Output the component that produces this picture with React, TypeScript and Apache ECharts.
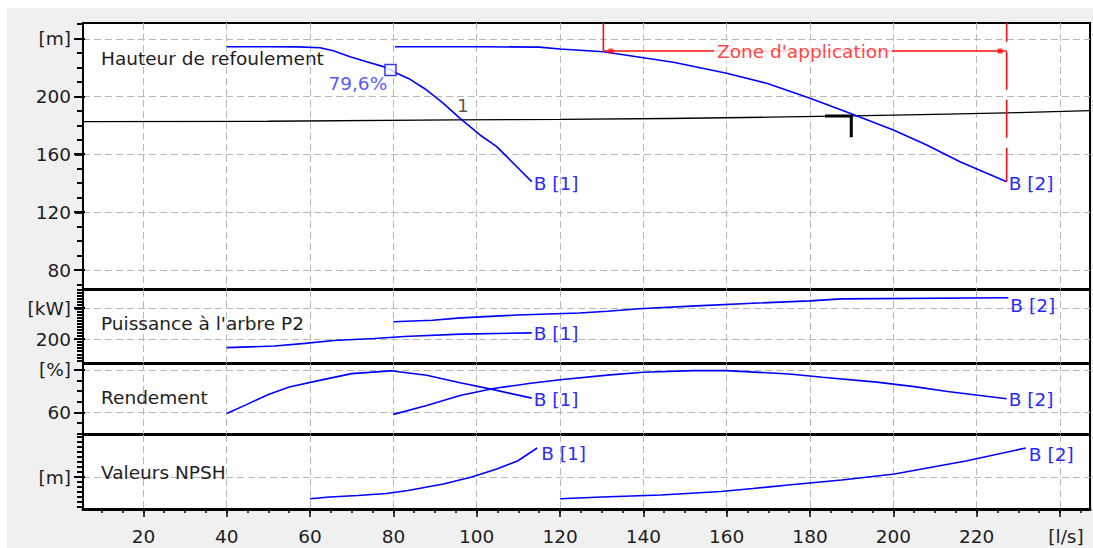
import React, { useEffect, useRef } from "react";
import * as echarts from "echarts";

const FONT = "DejaVu Sans";
const BLUE = "#0000ff";
const LABEL_BLUE = "#2a2aff";
const RED = "#ff1010";
const TXT = "#1e1e1e";
const FS = 18.5;

// ---------- axes ----------
const X_MIN = 5.5;
const X_MAX = 247.2;
const X_MAJOR_TICKS = [20, 40, 60, 80, 100, 120, 140, 160, 180, 200, 220, 240];
const X_UNIT_TICK = 240; // labelled "[l/s]"

const HEAD_RANGE = [66.9, 251.0];
const HEAD_TICKS = [80, 120, 160, 200, 240];
const POWER_RANGE = [45, 520.5];
const POWER_TICKS = [200, 400];
const EFF_RANGE = [50, 82.8];
const EFF_TICKS = [60, 80];
const NPSH_RANGE = [3.6, 18.4];
const NPSH_TICKS = [10];

// ---------- data: head ----------
const headB1Flow = [40, 50, 57, 62.4, 65.6, 69.6, 73.6, 77.6, 79.3, 80.8, 84, 88, 92, 96, 100.8, 104.8, 110.4, 113.2];
const headB1 = [234.6, 234.6, 234.5, 233.9, 231.8, 227.7, 224.2, 220.8, 218.5, 216.2, 212, 204.6, 195.4, 185, 173.5, 165.4, 149.3, 141.2];
const headB2Flow = [80.4, 100, 115, 120, 130.4, 147.2, 160, 169.6, 180, 189.6, 200, 208, 216, 227.2];
const headB2 = [234.6, 234.6, 234.3, 233.0, 231.1, 223.8, 216.2, 209.3, 198.9, 188.5, 177, 166.6, 155, 141.2];
const systemFlow = [5.5, 50, 94.5, 120, 146, 170, 190, 213, 230, 247.2];
const systemHead = [182.7, 183.0, 183.9, 184.3, 184.9, 185.8, 186.7, 188.0, 189.0, 190.4];

// ---------- data: power ----------
const powerB1Flow = [40, 51.5, 58.8, 65.6, 75.4, 82.6, 96.2, 113.2];
const powerB1 = [145, 155.7, 173, 191.5, 205, 217.6, 233, 241];
const powerB2Flow = [80, 89.4, 96.2, 109.8, 124.6, 131.4, 139, 152.7, 166.3, 179.9, 187.6, 227.6];
const powerB2 = [314, 323, 338.7, 357.7, 371, 382, 398, 417, 434.5, 449.5, 463, 470];

// ---------- data: efficiency ----------
const effB1Flow = [40, 45, 50, 55, 62, 70, 79.3, 88, 96, 104, 113.2];
const effB1 = [59.6, 64, 68.5, 72, 75, 78.3, 79.6, 77.5, 74, 70.8, 66.8];
const effB2Flow = [80, 88, 96, 104, 113, 120, 132, 140, 152, 160, 175, 183, 196, 205, 213, 227.2];
const effB2 = [59.2, 63.4, 68, 71.3, 73.8, 75.4, 77.7, 78.9, 79.7, 79.7, 78.1, 76.6, 74.3, 72.2, 69.9, 66.5];

// ---------- data: NPSH ----------
const npshB1Flow = [60, 64.7, 71.5, 78.3, 83.5, 92, 98.8, 104.8, 109.8, 114.5];
const npshB1 = [5.66, 6.0, 6.3, 6.7, 7.3, 8.6, 10, 11.6, 13.2, 15.8];
const npshB2Flow = [120, 130.1, 144.2, 158.6, 166.3, 174.8, 187.6, 200.3, 208.8, 217.4, 231.8];
const npshB2 = [5.66, 6.0, 6.4, 7.1, 7.7, 8.4, 9.4, 10.6, 11.9, 13.2, 15.8];

// ---------- annotations ----------
const bepPoint = [79.3, 218.5]; // best efficiency point
const bepLabel = "79,6%";
const dutyPoint1 = [96.7, 184.4];
const dutyMarkFlow = [183.6, 189.9, 189.9];
const dutyMarkHead = [186.6, 186.6, 171.9];
const zoneStart = 130.4;
const zoneEnd = 227.2;
const zoneLevel = 231.6;
const zoneEndHead = 141.2;
const zoneMarkers = [132.2, 225.6];
const zoneTextFlow = 178.3;

const zip = (xs: number[], ys: number[]) => xs.map((x, i) => [x, ys[i]]);
const range = (a: number, b: number, s: number) => {
  const r: number[] = [];
  for (let v = a; v <= b + 1e-9; v += s) r.push(Math.round(v * 1000) / 1000);
  return r;
};

const GRID_LEFT = 83;
const GRID_WIDTH = 1007;

const PANELS = [
  { top: 23, height: 266, range: HEAD_RANGE, major: HEAD_TICKS, minor: range(70, 250, 10), unit: { 240: "[m]" } as Record<number, string>, title: "Hauteur de refoulement", titleY: 58 },
  { top: 290, height: 73, range: POWER_RANGE, major: POWER_TICKS, minor: range(60, 520, 20), unit: { 400: "[kW]" } as Record<number, string>, title: "Puissance à l'arbre P2", titleY: 323 },
  { top: 364, height: 70, range: EFF_RANGE, major: EFF_TICKS, minor: range(50, 80, 5), unit: { 80: "[%]" } as Record<number, string>, title: "Rendement", titleY: 397 },
  { top: 435, height: 74, range: NPSH_RANGE, major: NPSH_TICKS, minor: range(4, 18, 1), unit: { 10: "[m]" } as Record<number, string>, title: "Valeurs NPSH", titleY: 472 },
];

const MAJOR_TICK_LEN = 8;
const MINOR_TICK_LEN = 5;

const textStyle = { fontFamily: FONT, fontSize: FS };

function curve(name: string, panel: number, data: number[][], label: string, dy: number, dist = 2) {
  return {
    name,
    type: "line",
    xAxisIndex: panel,
    yAxisIndex: panel,
    data,
    symbol: "none",
    showSymbol: false,
    lineStyle: { color: BLUE, width: 1.6 },
    z: 3,
    endLabel: {
      show: true,
      formatter: label,
      color: LABEL_BLUE,
      distance: dist,
      offset: [0, dy],
      ...textStyle,
    },
  };
}

export default function App() {
  const ref = useRef<HTMLDivElement>(null);
  useEffect(() => {
    if (!ref.current) return;
    const chart = echarts.init(ref.current, undefined, { renderer: "svg" });

    const grids = PANELS.map((p) => ({
      left: GRID_LEFT,
      width: GRID_WIDTH,
      top: p.top,
      height: p.height,
      show: true,
      backgroundColor: "#ffffff",
      borderColor: "#000000",
      borderWidth: 2,
    }));

    const xAxes: any[] = PANELS.map((_, i) => {
      const bottom = i === PANELS.length - 1;
      return {
        type: "value",
        gridIndex: i,
        min: X_MIN,
        max: X_MAX,
        position: "bottom",
        axisLine: { show: bottom, onZero: false, lineStyle: { color: "#000", width: 3 } },
        axisTick: { show: bottom, customValues: X_MAJOR_TICKS, length: MAJOR_TICK_LEN, lineStyle: { color: "#000", width: 1.5 } },
        axisLabel: {
          show: bottom,
          customValues: X_MAJOR_TICKS,
          margin: 18,
          color: TXT,
          ...textStyle,
          formatter: (v: number) => (v === X_UNIT_TICK ? "{u|[l/s]}" : String(v)),
          rich: { u: { padding: [0, 0, 0, 12], color: TXT, ...textStyle } },
        },
        splitLine: { show: true, lineStyle: { type: [7, 4], color: "#b8b8b8", width: 1 } },
      };
    });
    xAxes.push({
      type: "value",
      gridIndex: PANELS.length - 1,
      min: X_MIN,
      max: X_MAX,
      position: "bottom",
      axisLine: { show: false, onZero: false },
      axisTick: { show: true, customValues: range(10, 245, 5), length: 4, lineStyle: { color: "#000", width: 1.5 } },
      axisLabel: { show: false },
      splitLine: { show: false },
    });

    const yAxes: any[] = PANELS.map((p, i) => ({
      type: "value",
      gridIndex: i,
      min: p.range[0],
      max: p.range[1],
      position: "left",
      axisLine: { show: false, onZero: false },
      axisTick: { show: true, inside: false, customValues: p.major, length: MAJOR_TICK_LEN, lineStyle: { color: "#000", width: 1.8 } },
      axisLabel: {
        show: true,
        customValues: p.major,
        margin: 12,
        color: TXT,
        ...textStyle,
        formatter: (v: number) => p.unit[v] ?? String(v),
      },
      splitLine: { show: true, lineStyle: { type: [7, 4], color: "#b8b8b8", width: 1 } },
    }));

    const series: any[] = [
      // system curve
      {
        type: "line",
        xAxisIndex: 0,
        yAxisIndex: 0,
        data: zip(systemFlow, systemHead),
        symbol: "none",
        lineStyle: { color: "#000", width: 1.3 },
        z: 2,
      },
      curve("headB1", 0, zip(headB1Flow, headB1), "B [1]", 2),
      curve("headB2", 0, zip(headB2Flow, headB2), "B [2]", 2),
      curve("powerB1", 1, zip(powerB1Flow, powerB1), "B [1]", 1),
      curve("powerB2", 1, zip(powerB2Flow, powerB2), "B [2]", 7.5),
      curve("effB1", 2, zip(effB1Flow, effB1), "B [1]", 1.5),
      curve("effB2", 2, zip(effB2Flow, effB2), "B [2]", 1),
      curve("npshB1", 3, zip(npshB1Flow, npshB1), "B [1]", 5, 4),
      curve("npshB2", 3, zip(npshB2Flow, npshB2), "B [2]", 6, 3),
      // duty point mark (T)
      {
        type: "line",
        xAxisIndex: 0,
        yAxisIndex: 0,
        data: zip(dutyMarkFlow, dutyMarkHead),
        symbol: "none",
        lineStyle: { color: "#000", width: 3, cap: "butt", join: "miter" },
        z: 4,
      },
      // zone d'application: left limit + horizontal line
      {
        type: "line",
        xAxisIndex: 0,
        yAxisIndex: 0,
        data: [
          [zoneStart, HEAD_RANGE[1]],
          [zoneStart, zoneLevel],
          [zoneEnd, zoneLevel],
        ],
        symbol: "none",
        lineStyle: { color: RED, width: 1.6 },
        z: 5,
      },
      // zone d'application: right limit (dashed)
      {
        type: "line",
        xAxisIndex: 0,
        yAxisIndex: 0,
        data: [
          [zoneEnd, zoneEndHead],
          [zoneEnd, HEAD_RANGE[1]],
        ],
        symbol: "none",
        lineStyle: { color: RED, width: 1.6, type: [38, 10], dashOffset: 4 },
        z: 5,
      },
      // zone markers
      {
        type: "scatter",
        xAxisIndex: 0,
        yAxisIndex: 0,
        data: zoneMarkers.map((x) => [x, zoneLevel]),
        symbol: "rect",
        symbolSize: 5,
        itemStyle: { color: RED },
        z: 6,
      },
      // zone text
      {
        type: "scatter",
        xAxisIndex: 0,
        yAxisIndex: 0,
        data: [[zoneTextFlow, zoneLevel]],
        symbolSize: 1,
        itemStyle: { color: "rgba(0,0,0,0)" },
        label: {
          show: true,
          position: "inside",
          formatter: "Zone d'application",
          color: RED,
          backgroundColor: "#ffffff",
          padding: [1, 3],
          ...textStyle,
        },
        z: 7,
      },
      // best efficiency point
      {
        type: "scatter",
        xAxisIndex: 0,
        yAxisIndex: 0,
        data: [bepPoint],
        symbol: "rect",
        symbolSize: 11,
        itemStyle: { color: "#ffffff", borderColor: BLUE, borderWidth: 1.5 },
        label: {
          show: true,
          position: "left",
          distance: 0,
          offset: [3, 13.5],
          formatter: bepLabel,
          color: LABEL_BLUE,
          ...textStyle,
        },
        z: 6,
      },
      // duty point 1
      {
        type: "scatter",
        xAxisIndex: 0,
        yAxisIndex: 0,
        data: [dutyPoint1],
        symbolSize: 1,
        itemStyle: { color: "rgba(0,0,0,0)" },
        label: {
          show: true,
          position: "top",
          distance: 4,
          formatter: "1",
          color: "#3a2a12",
          ...textStyle,
        },
        z: 6,
      },
    ];

    // y-axis tick comb drawn from each panel's value range
    const tickLines: any[] = [];
    PANELS.forEach((p) => {
      const items = [
        ...p.minor.filter((v) => !p.major.includes(v)).map((v) => [v, MINOR_TICK_LEN, 0]),
        ...p.major.map((v) => [v, MAJOR_TICK_LEN, 3]),
      ];
      items.forEach(([v, len, inner]) => {
        if (v < p.range[0] || v > p.range[1]) return;
        const frac = (p.range[1] - v) / (p.range[1] - p.range[0]);
        const y = Math.round(p.top + frac * p.height);
        tickLines.push({
          type: "rect",
          silent: true,
          z: 90,
          shape: { x: GRID_LEFT - 1 - len, y: y - 1, width: len + inner, height: 2 },
          style: { fill: "#000" },
        });
      });
    });

    const titles: any[] = PANELS.map((p) => ({
      type: "text",
      x: 101,
      y: p.titleY,
      z: 100,
      style: {
        text: p.title,
        fill: TXT,
        font: `${FS}px "${FONT}"`,
        verticalAlign: "middle",
        align: "left",
      },
    }));

    chart.setOption({
      animation: false,
      grid: grids,
      xAxis: xAxes,
      yAxis: yAxes,
      series,
      graphic: { elements: [...titles, ...tickLines] },
    });

    return () => chart.dispose();
  }, []);

  return (
    <div style={{ position: "absolute", left: 0, top: 0, width: 1093, height: 548, background: "#ffffff" }}>
      <div style={{ position: "absolute", left: 7, top: 8, width: 1086, height: 540, background: "#f0f0f0" }} />
      <div ref={ref} style={{ position: "absolute", left: 0, top: 0, width: 1093, height: 548 }} />
    </div>
  );
}
